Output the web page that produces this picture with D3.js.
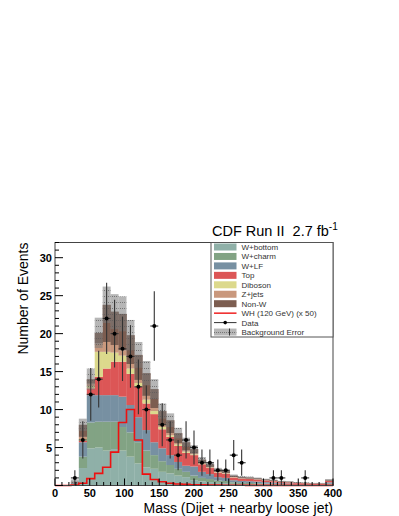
<!DOCTYPE html>
<html>
<head>
<meta charset="utf-8">
<script src="https://cdn.jsdelivr.net/npm/d3@7"></script>
<style>
  body { margin: 0; background: #fff; }
  svg { font-family: "Liberation Sans", Arial, sans-serif; }
</style>
</head>
<body>
<div id="chart"></div>
<script>
// binning : 35 bins from 0 to 400 GeV
var nBins = 35, xMin = 0, xMax = 400;

// background components (events per bin), stacked bottom -> top
var wBottom = [0,0.01,0.12,2.3,4.9,5.0,4.6,4.8,4.6,3.8,2.9,2.4,2.2,1.8,1.6,1.3,1.1,0.7,0.55,0.45,0.35,0.32,0.22,0.19,0.18,0.16,0.14,0.12,0.1,0.09,0.07,0.06,0.05,0.05,0.13];
var wCharm  = [0,0,0.1,1.5,3.4,3.4,3.8,3.6,3.1,3.2,2.8,2.2,1.8,1.4,1.1,0.9,0.7,0.6,0.45,0.4,0.3,0.28,0.2,0.16,0.15,0.14,0.11,0.1,0.07,0.07,0.06,0.05,0.04,0.04,0.1];
var wLF     = [0,0.01,0.12,1.9,3.6,3.5,3.5,3.5,4.0,3.6,3.3,2.7,1.7,1.7,1.3,0.9,0.8,1.2,0.8,0.65,0.45,0.4,0.28,0.25,0.24,0.22,0.19,0.16,0.13,0.11,0.09,0.08,0.07,0.07,0.18];
var topQ    = [0,0,0.03,0.2,0.9,2.4,3.5,4.4,4.6,4.1,4.0,3.5,3.7,2.5,2.4,2.1,1.7,1.5,1.0,0.8,0.6,0.55,0.35,0.3,0.29,0.26,0.22,0.19,0.15,0.14,0.11,0.1,0.08,0.08,0.2];
var diboson = [0,0,0.02,0.2,0.3,3.3,2.2,1.2,0.8,0.7,0.5,0.5,0.4,0.3,0.2,0.2,0.15,0.1,0.1,0.05,0.05,0.05,0.03,0.02,0.02,0.02,0.01,0.01,0.01,0.01,0.01,0.01,0.01,0.01,0.01];
var zJets   = [0,0,0.03,0.3,0.3,1.1,1.3,1.0,0.7,0.6,0.4,0.5,0.4,0.3,0.3,0.2,0.15,0.1,0.1,0.1,0.05,0.05,0.04,0.03,0.03,0.02,0.02,0.02,0.01,0.01,0.01,0.01,0.01,0.01,0.02];
var nonW    = [0,0,0.08,1.6,0.6,1.4,4.9,4.4,4.8,3.8,3.3,3.0,2.5,1.8,1.7,1.3,1.1,0.6,0.4,0.35,0.3,0.25,0.18,0.15,0.14,0.13,0.11,0.1,0.08,0.07,0.05,0.04,0.04,0.04,0.11];

// total background uncertainty per bin
var bkgErr  = [0,0.02,0.3,0.8,1.4,2.0,2.4,2.3,2.3,2.0,1.7,1.6,1.3,1.0,0.9,0.7,0.6,0.5,0.35,0.3,0.22,0.2,0.15,0.12,0.12,0.1,0.09,0.08,0.07,0.06,0.05,0.05,0.04,0.04,0.09];

// WH 120 GeV signal x 50
var signal  = [0,0,0.05,0.3,0.9,1.6,2.4,4.4,8.3,10.0,6.0,1.5,0.8,0.5,0.3,0.2,0.15,0.1,0.08,0.06,0.05,0.04,0.03,0.03,0.02,0.02,0.02,0.01,0.01,0.01,0.01,0.01,0.01,0.01,0.01];

// observed data
var dataObs = [0,0,1,6,12,14,22,20,18,17,13,10,21,8,6,4,6,5,3,3,2,2,4,3,0,0,0,1,1,0,0,1,0,0,0];

var seriesNames  = ["W+bottom","W+charm","W+LF","Top","Diboson","Z+jets","Non-W"];
var seriesColors = ["#8fb0a8","#82a384","#7790a2","#dc5656","#dcd98c","#c9987d","#7c5d50"];
var xTicks = [0,50,100,150,200,250,300,350,400];
var yTicks = [5,10,15,20,25,30];

// dimensions
var W = 399, H = 516;
var margin = {left: 55, top: 242.5, right: 66, bottom: 30.5};
var width = W - margin.left - margin.right;
var height = H - margin.top - margin.bottom;

var svg = d3.select("#chart").append("svg")
    .attr("width", W).attr("height", H);

var x = d3.scaleLinear().domain([xMin, xMax]).range([margin.left, margin.left + width]);
var y = d3.scaleLinear().domain([0, 32]).range([margin.top + height, margin.top]);
var binW = (xMax - xMin) / nBins;

// build table for the stack
var table = d3.range(nBins).map(function(i) {
    var row = {bin: i};
    row["W+bottom"] = wBottom[i];
    row["W+charm"] = wCharm[i];
    row["W+LF"] = wLF[i];
    row["Top"] = topQ[i];
    row["Diboson"] = diboson[i];
    row["Z+jets"] = zJets[i];
    row["Non-W"] = nonW[i];
    return row;
});
var stacked = d3.stack().keys(seriesNames)(table);

// pattern for the error band (grey with dotted rows)
var defs = svg.append("defs");
var pat = defs.append("pattern").attr("id", "errpat")
    .attr("width", 2).attr("height", 6).attr("patternUnits", "userSpaceOnUse");
pat.append("rect").attr("width", 2).attr("height", 6).attr("fill", "#7a7a7a").attr("fill-opacity", 0.55);
pat.append("rect").attr("x", 0).attr("y", 2).attr("width", 1).attr("height", 1).attr("fill", "#5a5a5a").attr("fill-opacity", 0.7);

var plot = svg.append("g");

// stacked histograms
stacked.forEach(function(layer, k) {
    plot.append("g").selectAll("rect")
        .data(layer)
        .enter().append("rect")
        .attr("x", function(d, i) { return x(i * binW); })
        .attr("width", function(d, i) { return x((i + 1) * binW) - x(i * binW) + 0.3; })
        .attr("y", function(d) { return y(d[1]); })
        .attr("height", function(d) { return Math.max(0, y(d[0]) - y(d[1])); })
        .attr("fill", seriesColors[k]);
});

// background error band
var totals = stacked[stacked.length - 1].map(function(d) { return d[1]; });
plot.append("g").selectAll("rect")
    .data(totals)
    .enter().append("rect")
    .attr("x", function(d, i) { return x(i * binW); })
    .attr("width", function(d, i) { return x((i + 1) * binW) - x(i * binW); })
    .attr("y", function(d, i) { return y(Math.min(32, d + bkgErr[i])); })
    .attr("height", function(d, i) { return Math.max(0, y(Math.max(0, d - bkgErr[i])) - y(Math.min(32, d + bkgErr[i]))); })
    .attr("fill", "url(#errpat)");

// signal outline
var sigPts = [[x(xMin), y(0)]];
signal.forEach(function(v, i) {
    sigPts.push([x(i * binW), y(v)]);
    sigPts.push([x((i + 1) * binW), y(v)]);
});
sigPts.push([x(xMax), y(0)]);
plot.append("path")
    .attr("d", d3.line()(sigPts))
    .attr("fill", "none")
    .attr("stroke", "#ee1111")
    .attr("stroke-width", 1.6);

// data points
var pts = dataObs.map(function(v, i) { return {i: i, v: v}; }).filter(function(d) { return d.v > 0; });
var dg = plot.append("g");
pts.forEach(function(d) {
    var cx = x((d.i + 0.5) * binW), e = Math.sqrt(d.v);
    dg.append("line")
        .attr("x1", cx).attr("x2", cx)
        .attr("y1", y(d.v + e)).attr("y2", y(Math.max(0, d.v - e)))
        .attr("stroke", "#333").attr("stroke-width", 1.1);
    dg.append("line")
        .attr("x1", x(d.i * binW)).attr("x2", x((d.i + 1) * binW))
        .attr("y1", y(d.v)).attr("y2", y(d.v))
        .attr("stroke", "#333").attr("stroke-width", 1.1);
    dg.append("circle")
        .attr("cx", cx).attr("cy", y(d.v)).attr("r", 2)
        .attr("fill", "#000");
});

// frame
svg.append("rect")
    .attr("x", margin.left).attr("y", margin.top)
    .attr("width", width).attr("height", height)
    .attr("fill", "none").attr("stroke", "#444").attr("stroke-width", 1);

// x axis: ticks pointing inward
var xAxis = svg.append("g");
d3.range(0, 401, 10).forEach(function(t) {
    var major = (t % 50 === 0);
    xAxis.append("line")
        .attr("x1", x(t)).attr("x2", x(t))
        .attr("y1", y(0)).attr("y2", y(0) - (major ? 7 : 3.5))
        .attr("stroke", "#000").attr("stroke-width", 1);
});
xAxis.selectAll("text").data(xTicks).enter().append("text")
    .attr("x", function(d) { return x(d); })
    .attr("y", y(0) + 11.5)
    .attr("text-anchor", "middle")
    .attr("font-size", "11px").attr("font-weight", "bold")
    .text(function(d) { return d; });

// y axis
var yAxis = svg.append("g");
d3.range(0, 33, 1).forEach(function(t) {
    var major = (t % 5 === 0);
    yAxis.append("line")
        .attr("x1", x(0)).attr("x2", x(0) + (major ? 8 : 4))
        .attr("y1", y(t)).attr("y2", y(t))
        .attr("stroke", "#000").attr("stroke-width", 1);
});
yAxis.selectAll("text").data(yTicks).enter().append("text")
    .attr("x", x(0) - 3)
    .attr("y", function(d) { return y(d) + 4; })
    .attr("text-anchor", "end")
    .attr("font-size", "11px").attr("font-weight", "bold")
    .text(function(d) { return d; });

// axis titles
svg.append("text")
    .attr("x", margin.left + width).attr("y", 512.5)
    .attr("text-anchor", "end")
    .attr("font-size", "14px")
    .text("Mass (Dijet + nearby loose jet)");

svg.append("text")
    .attr("transform", "translate(28," + margin.top + ") rotate(-90)")
    .attr("text-anchor", "end")
    .attr("font-size", "14px")
    .text("Number of Events");

// title
var title = svg.append("text")
    .attr("x", 212).attr("y", 236)
    .attr("font-size", "14.5px");
title.append("tspan").text("CDF Run II\u00a0\u00a02.7 fb");
title.append("tspan").attr("dy", -6).attr("font-size", "10px").text("-1");

// legend
var lg = svg.append("g");
var lx = 211, ly = margin.top;
lg.append("rect")
    .attr("x", lx).attr("y", ly)
    .attr("width", margin.left + width - lx).attr("height", 94.5)
    .attr("fill", "#fff").attr("stroke", "#555").attr("stroke-width", 1);

var legendItems = seriesNames.map(function(n, k) { return {name: n, type: "box", color: seriesColors[k]}; });
legendItems.push({name: "WH (120 GeV) (x 50)", type: "line"});
legendItems.push({name: "Data", type: "data"});
legendItems.push({name: "Background Error", type: "err"});

legendItems.forEach(function(it, k) {
    var cy = ly + 4.5 + k * 9.45;
    if (it.type === "box") {
        lg.append("rect").attr("x", 214).attr("y", cy - 3.5).attr("width", 22.5).attr("height", 7).attr("fill", it.color);
    } else if (it.type === "line") {
        lg.append("line").attr("x1", 214).attr("x2", 236.5).attr("y1", cy).attr("y2", cy)
            .attr("stroke", "#ee1111").attr("stroke-width", 1.4);
    } else if (it.type === "data") {
        lg.append("line").attr("x1", 214).attr("x2", 236.5).attr("y1", cy).attr("y2", cy)
            .attr("stroke", "#333").attr("stroke-width", 1);
        lg.append("circle").attr("cx", 225.2).attr("cy", cy).attr("r", 1.8).attr("fill", "#000");
    } else {
        lg.append("rect").attr("x", 214).attr("y", cy - 3.5).attr("width", 22.5).attr("height", 7).attr("fill", "#fff");
        lg.append("rect").attr("x", 214).attr("y", cy - 3.5).attr("width", 22.5).attr("height", 7).attr("fill", "url(#errpat)");
        lg.append("line").attr("x1", 229.5).attr("x2", 229.5).attr("y1", cy - 3.5).attr("y2", cy + 3.5)
            .attr("stroke", "#333").attr("stroke-width", 1);
    }
    lg.append("text")
        .attr("x", 241.5).attr("y", cy + 3)
        .attr("font-size", "8px").attr("fill", "#333")
        .text(it.name);
});
</script>
</body>
</html>
